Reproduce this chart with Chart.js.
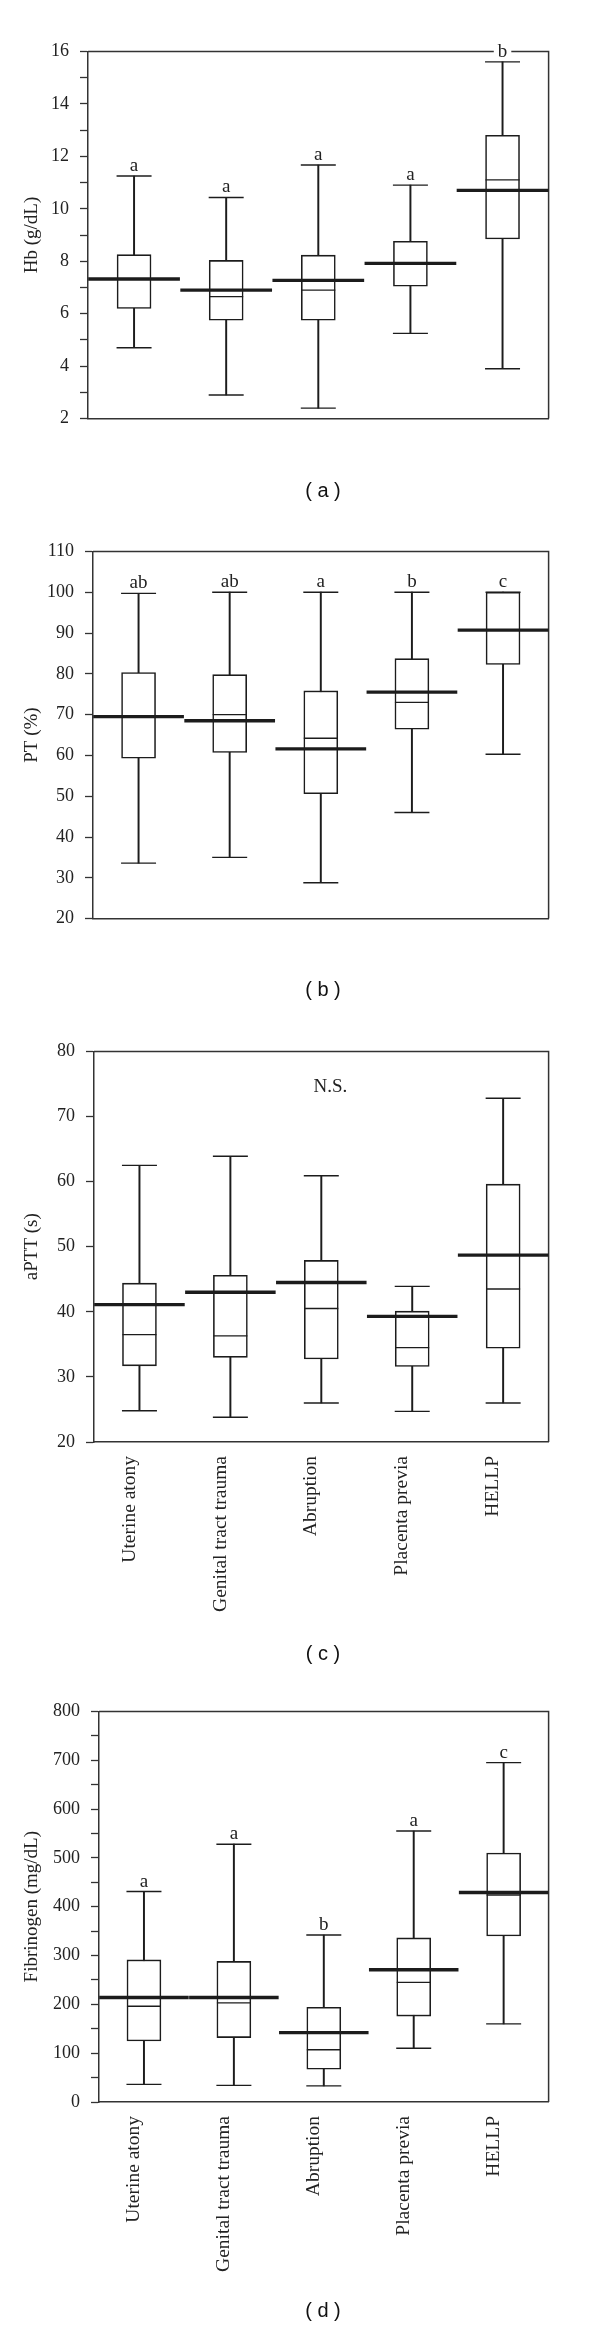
<!DOCTYPE html>
<html>
<head>
<meta charset="utf-8">
<title>Hb, PT, aPTT, Fibrinogen</title>
<script src="https://cdn.jsdelivr.net/npm/chart.js@4.4.0/dist/chart.umd.min.js"></script>
<style>
    html, body { margin: 0; padding: 0; background: #fff; }
    #page { position: relative; width: 600px; height: 2327px; }
    #page canvas { position: absolute; left: 0; }
    .caption {
        position: absolute; left: 273px; width: 100px; text-align: center;
        font-family: "Liberation Sans", Arial, sans-serif; font-size: 20px;
        line-height: 24px; color: #111; white-space: pre;
    }
</style>
</head>
<body>
<div id="page">
    <canvas id="chartHb" width="600" height="470" style="top:0px"></canvas>
    <canvas id="chartPt" width="600" height="470" style="top:500px"></canvas>
    <canvas id="chartAptt" width="600" height="630" style="top:1000px"></canvas>
    <canvas id="chartFib" width="600" height="640" style="top:1660px"></canvas>
    <div class="caption" style="top:478px">( a )</div>
    <div class="caption" style="top:977px">( b )</div>
    <div class="caption" style="top:1641px">( c )</div>
    <div class="caption" style="top:2298px">( d )</div>
</div>
<script>
var categorias = ['Uterine atony', 'Genital tract trauma', 'Abruption', 'Placenta previa', 'HELLP'];

// (a) Hb
var hbMin     = [4.7, 2.9, 2.4, 5.25, 3.9];
var hbQ1      = [6.2, 5.75, 5.75, 7.05, 8.85];
var hbMediana = [7.32, 6.65, 6.9, 7.92, 11.1];
var hbQ3      = [8.25, 8.03, 8.23, 8.76, 12.8];
var hbMax     = [11.25, 10.43, 11.67, 10.9, 15.6];
var hbMedia   = [7.32, 6.9, 7.27, 7.92, 10.7];
var hbLetras  = ['a', 'a', 'a', 'a', 'b'];
var hbEje     = [2, 16, 1, 2]; // min, max, paso, etiqueta cada

// (b) PT
var ptMin     = [33.6, 35, 28.8, 46, 60.3];
var ptQ1      = [59.3, 60.7, 50.6, 66.4, 82.3];
var ptMediana = [69.6, 70, 64.2, 73, 90.7];
var ptQ3      = [80.3, 79.8, 75.8, 83.7, 100];
var ptMax     = [99.7, 100, 100, 100, 100];
var ptMedia   = [69.5, 68.5, 61.6, 75.5, 90.7];
var ptLetras  = ['ab', 'ab', 'a', 'b', 'c'];
var ptEje     = [20, 110, 10, 10];

// (c) aPTT
var apttMin     = [24.8, 23.8, 26, 24.7, 26];
var apttQ1      = [31.7, 33, 32.75, 31.6, 34.4];
var apttMediana = [36.5, 36.3, 40.5, 34.5, 43.5];
var apttQ3      = [44.4, 45.6, 47.9, 40.1, 59.6];
var apttMax     = [62.5, 63.9, 60.9, 43.9, 72.8];
var apttMedia   = [41.1, 43, 44.5, 39.3, 48.7];
var apttNota    = 'N.S.';
var apttEje     = [20, 80, 10, 10];

// (d) Fibrinogen
var fibMin     = [36, 34, 33, 110, 160];
var fibQ1      = [125, 132, 67, 176, 340];
var fibMediana = [196, 203, 107, 245, 424];
var fibQ3      = [291, 288, 194, 336, 510];
var fibMax     = [431, 528, 342, 555, 695];
var fibMedia   = [214, 214, 142, 271, 429];
var fibLetras  = ['a', 'a', 'b', 'a', 'c'];
var fibEje     = [0, 800, 50, 100];

(function () {
    var SERIF = '"Liberation Serif", "Times New Roman", serif';
    var TINTA = '#1c1c1c';

    Chart.defaults.font.family = SERIF;
    Chart.defaults.color = '#222';

    // marco superior/derecho y letras sobre los bigotes
    var extras = {
        id: 'boxExtras',
        beforeDatasetsDraw: function (chart) {
            var a = chart.chartArea, c = chart.ctx;
            c.save();
            c.strokeStyle = '#333';
            c.lineWidth = 1.5;
            c.beginPath();
            c.moveTo(a.left, a.top);
            c.lineTo(a.right, a.top);
            c.lineTo(a.right, a.bottom);
            c.stroke();
            c.restore();
        },
        afterDatasetsDraw: function (chart, args, opts) {
            var c = chart.ctx, xs = chart.scales.x, ys = chart.scales.y;
            c.save();
            c.font = '19px ' + SERIF;
            c.fillStyle = '#222';
            c.textAlign = 'center';
            c.textBaseline = 'alphabetic';
            (opts.letras || []).forEach(function (txt, i) {
                var x = xs.getPixelForValue(i);
                var y = ys.getPixelForValue(opts.tope[i]) - 5;
                var w = c.measureText(txt).width;
                c.fillStyle = '#fff';
                c.fillRect(x - w / 2 - 4, y - 14, w + 8, 15);
                c.fillStyle = '#222';
                c.fillText(txt, x, y);
            });
            if (opts.nota) {
                c.textBaseline = 'middle';
                c.fillText(opts.nota.texto, xs.getPixelForValue(2) + 9, ys.getPixelForValue(opts.nota.valor));
            }
            c.restore();
        }
    };

    function puntoLinea(datos, radio, grosor, orden) {
        return {
            type: 'line',
            data: datos,
            showLine: false,
            pointStyle: 'line',
            pointRadius: radio,
            pointBorderWidth: grosor,
            pointBorderColor: TINTA,
            pointBackgroundColor: TINTA,
            order: orden
        };
    }

    function crearPanel(id, p) {
        var ctx = document.getElementById(id);
        var mediaRadio = function (c) {
            var a = c.chart.chartArea;
            return a ? (a.right - a.left) / 10 - 0.2 : 48;
        };

        return new Chart(ctx, {
            type: 'bar',
            data: {
                labels: categorias,
                datasets: [
                    {
                        data: p.min.map(function (v, i) { return [v, p.max[i]]; }),
                        backgroundColor: TINTA,
                        borderWidth: 0,
                        barThickness: 1.3,
                        grouped: false,
                        order: 6
                    },
                    {
                        data: p.q1.map(function (v, i) { return [v, p.q3[i]]; }),
                        backgroundColor: '#fff',
                        borderColor: TINTA,
                        borderWidth: 1.6,
                        borderSkipped: false,
                        barThickness: 34,
                        grouped: false,
                        order: 5
                    },
                    puntoLinea(p.mediana, 17, 1.4, 4),
                    puntoLinea(p.min, 17.5, 1.4, 3),
                    puntoLinea(p.max, 17.5, 1.4, 3),
                    puntoLinea(p.media, mediaRadio, 3.4, 1)
                ]
            },
            options: {
                responsive: false,
                animation: false,
                events: [],
                layout: { padding: { top: p.padTop, right: 21, bottom: 0, left: 0 } },
                plugins: {
                    legend: { display: false },
                    tooltip: { enabled: false },
                    boxExtras: { letras: p.letras, tope: p.max, nota: p.nota }
                },
                scales: {
                    x: {
                        afterFit: function (s) { s.height = p.xAlto; },
                        border: { display: true, color: '#333', width: 1.5 },
                        grid: { display: false, drawTicks: false },
                        ticks: {
                            display: p.etiquetas,
                            autoSkip: false,
                            maxRotation: 90,
                            minRotation: 90,
                            padding: 14,
                            labelOffset: -10,
                            color: '#222',
                            font: { family: SERIF, size: 19.5 }
                        }
                    },
                    y: {
                        min: p.eje[0],
                        max: p.eje[1],
                        afterFit: function (s) { s.width = p.izq; },
                        border: { display: true, color: '#333', width: 1.5 },
                        grid: {
                            display: true,
                            drawOnChartArea: false,
                            drawTicks: true,
                            tickLength: 8,
                            tickColor: '#333',
                            tickWidth: 1.3
                        },
                        ticks: {
                            stepSize: p.eje[2],
                            autoSkip: false,
                            padding: 11,
                            color: '#222',
                            font: { family: SERIF, size: 18 },
                            callback: function (v) {
                                return Math.abs(v % p.eje[3]) < 1e-6 ? v : '';
                            }
                        },
                        title: {
                            display: true,
                            text: p.titulo,
                            color: '#222',
                            font: { family: SERIF, size: 19 },
                            padding: { top: 21, bottom: 0 }
                        }
                    }
                }
            },
            plugins: [extras]
        });
    }

    crearPanel('chartHb', {
        min: hbMin, q1: hbQ1, mediana: hbMediana, q3: hbQ3, max: hbMax, media: hbMedia,
        letras: hbLetras, eje: hbEje, titulo: 'Hb (g/dL)',
        izq: 88, padTop: 31, xAlto: 27, etiquetas: false
    });

    crearPanel('chartPt', {
        min: ptMin, q1: ptQ1, mediana: ptMediana, q3: ptQ3, max: ptMax, media: ptMedia,
        letras: ptLetras, eje: ptEje, titulo: 'PT (%)',
        izq: 93, padTop: 36, xAlto: 27, etiquetas: false
    });

    crearPanel('chartAptt', {
        min: apttMin, q1: apttQ1, mediana: apttMediana, q3: apttQ3, max: apttMax, media: apttMedia,
        letras: [], nota: { texto: apttNota, valor: 74.6 }, eje: apttEje, titulo: 'aPTT (s)',
        izq: 94, padTop: 35, xAlto: 188, etiquetas: true
    });

    crearPanel('chartFib', {
        min: fibMin, q1: fibQ1, mediana: fibMediana, q3: fibQ3, max: fibMax, media: fibMedia,
        letras: fibLetras, eje: fibEje, titulo: 'Fibrinogen (mg/dL)',
        izq: 99, padTop: 39, xAlto: 198, etiquetas: true
    });
})();
</script>
</body>
</html>
